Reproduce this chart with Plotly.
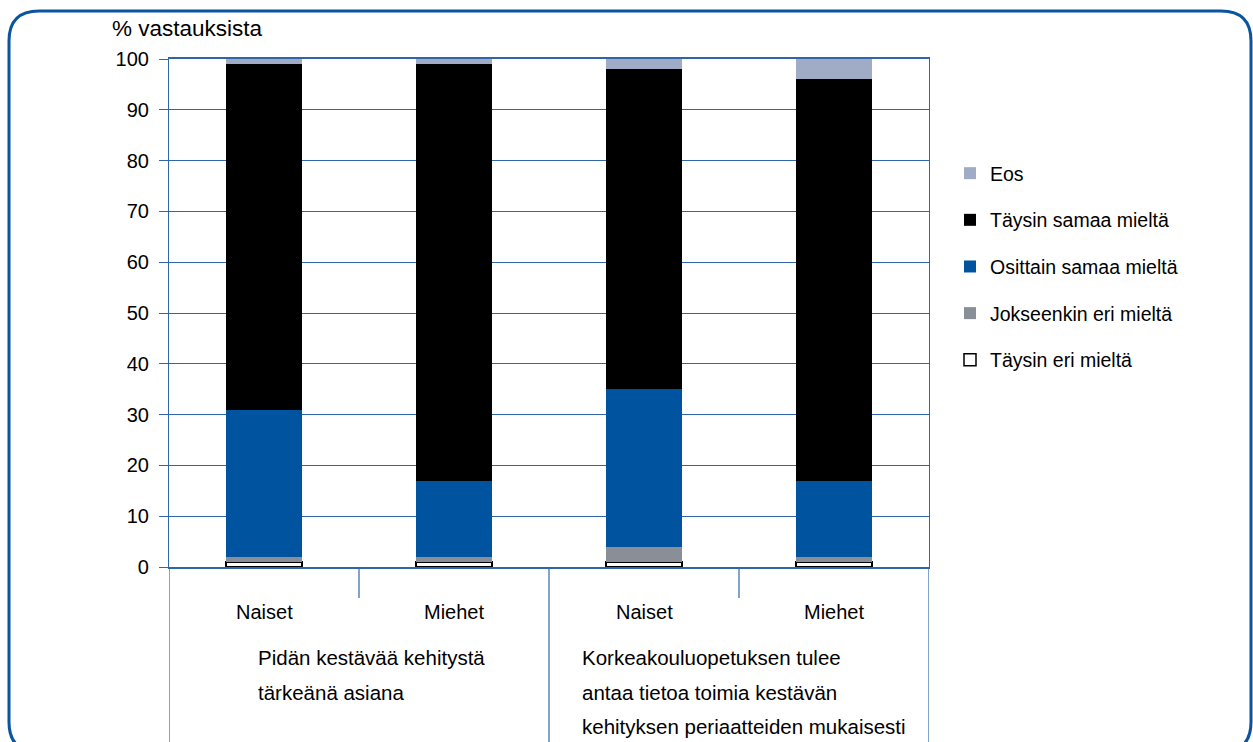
import plotly.graph_objects as go

categories = ["Naiset", "Miehet", "Naiset", "Miehet"]
series_names = ["Täysin eri mieltä", "Jokseenkin eri mieltä", "Osittain samaa mieltä",
                "Täysin samaa mieltä", "Eos"]
taysin_eri = [1, 1, 1, 1]
jokseenkin_eri = [1, 1, 3, 1]
osittain_samaa = [29, 15, 31, 15]
taysin_samaa = [68, 82, 63, 79]
eos = [1, 1, 2, 4]
group_labels = [
    ["Pidän kestävää kehitystä", "tärkeänä asiana"],
    ["Korkeakouluopetuksen tulee", "antaa tietoa toimia kestävän",
     "kehityksen periaatteiden mukaisesti"],
]
y_title = "% vastauksista"
y_ticks = [0, 10, 20, 30, 40, 50, 60, 70, 80, 90, 100]

values = [taysin_eri, jokseenkin_eri, osittain_samaa, taysin_samaa, eos]
colors = ["#ffffff", "#8a8e96", "#00539f", "#000000", "#a0abc6"]
line_colors = ["#000000", "#8a8e96", "#00539f", "#000000", "#a0abc6"]
line_widths = [1.5, 0, 0, 0, 0]

FONT = "Liberation Sans, Arial, Helvetica, sans-serif"
BLUE = "#0b55a0"
GRID = "#2f66aa"

# pixel -> paper helpers for the layout frame
L, R, T, B = 169, 929, 59, 567
def px(x):
    return (x - L) / (R - L)
def py(y):
    return (B - y) / (B - T)

xpos = list(range(len(categories)))

fig = go.Figure()
n = len(series_names)
for i, (name, vals) in enumerate(zip(series_names, values)):
    fig.add_trace(go.Bar(
        x=xpos, y=vals, name=name, width=0.4,
        marker=dict(color=colors[i], line=dict(color=line_colors[i], width=line_widths[i])),
        legendgroup=name, legendrank=n - i,
    ))

shapes = []
# category separators
for xb, ybot in [(-0.5, 760), (0.5, 598), (1.5, 760), (2.5, 598), (3.5, 760)]:
    shapes.append(dict(type="line", xref="x", yref="paper", x0=xb, x1=xb,
                       y0=0, y1=py(ybot), line=dict(color=GRID, width=1.2)))

# rounded outer frame
l, r, t, b, rad = 9, 1251, 11, 752, 30
def P(x, y):
    return f"{px(x):.5f},{py(y):.5f}"
path = (f"M {P(l, t + rad)} Q {P(l, t)} {P(l + rad, t)} L {P(r - rad, t)} "
        f"Q {P(r, t)} {P(r, t + rad)} L {P(r, b - rad)} Q {P(r, b)} {P(r - rad, b)} "
        f"L {P(l + rad, b)} Q {P(l, b)} {P(l, b - rad)} Z")
shapes.append(dict(type="path", xref="paper", yref="paper", path=path,
                   line=dict(color=BLUE, width=3), layer="below"))

annotations = [dict(text=y_title, xref="paper", yref="paper", x=px(110), y=py(28),
                    xanchor="left", yanchor="middle", showarrow=False,
                    font=dict(size=22.5, color="#000", family=FONT))]
for i, c in enumerate(categories):
    annotations.append(dict(text=c, xref="x", yref="paper", x=i, y=py(612),
                            xanchor="center", yanchor="middle", showarrow=False,
                            font=dict(size=20, color="#000", family=FONT)))
group_x = [256, 580]
line_y = [657, 692, 727]
for g, lines in enumerate(group_labels):
    for j, t_ in enumerate(lines):
        annotations.append(dict(text=t_, xref="paper", yref="paper", x=px(group_x[g]),
                                y=py(line_y[j]), xanchor="left", yanchor="middle",
                                showarrow=False,
                                font=dict(size=20.5, color="#000", family=FONT)))

fig.update_layout(
    barmode="stack",
    width=1253, height=742,
    margin=dict(l=L, r=1253 - R, t=T, b=742 - B, autoexpand=False),
    paper_bgcolor="white", plot_bgcolor="white",
    font=dict(family=FONT, size=16, color="#000"),
    bargap=0.6,
    xaxis=dict(range=[-0.5, 3.5], showticklabels=False, ticks="", showgrid=False,
               zeroline=False, showline=True, linecolor=GRID, linewidth=1.5, mirror=True,
               fixedrange=True),
    yaxis=dict(range=[0, 100], tickvals=y_ticks, ticks="outside", ticklen=9,
               tickcolor=GRID, showgrid=True, gridcolor=GRID, gridwidth=1,
               zeroline=False, showline=True, linecolor=GRID, linewidth=1.2, mirror=True,
               ticklabelstandoff=6,
               tickfont=dict(size=20, family=FONT, color="#000"), fixedrange=True),
    legend=dict(x=px(950), y=py(154), xanchor="left", yanchor="top",
                traceorder="grouped", tracegroupgap=18.3,
                font=dict(size=19.5, family=FONT, color="#000"),
                bgcolor="rgba(0,0,0,0)", itemclick=False),
    shapes=shapes,
    annotations=annotations,
    showlegend=True,
)

fig.write_html("out.html")
